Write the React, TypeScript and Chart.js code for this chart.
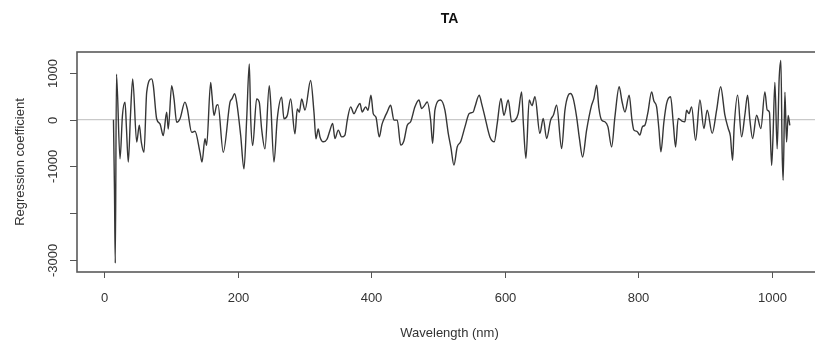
import React, { useEffect, useRef } from "react";
import { Chart, registerables } from "chart.js";

Chart.register(...registerables);

const chartTitle = "TA";
const xAxisTitle = "Wavelength (nm)";
const yAxisTitle = "Regression coefficient";

const xTicks = [0, 200, 400, 600, 800, 1000];
const xTickLabels = ["0", "200", "400", "600", "800", "1000"];
const yTicks = [1000, 0, -1000, -2000, -3000];
const yTickLabels = ["1000", "0", "-1000", "", "-3000"];

const wavelengths = [
  13.9, 15.4, 16.6, 18.4, 23.7, 27.4, 31.2, 33.4, 36.1, 39.4,
  42.7, 48.7, 52.6, 55.6, 59.6, 63.7, 71.2, 73.6, 78.6, 83.6,
  88.5, 93.6, 96.0, 101.1, 104.6, 108.6, 113.6, 121.0, 124.5, 131.1,
  136.0, 143.5, 146.5, 151.0, 153.5, 159.5, 161.5, 164.5, 168.5, 170.5,
  178.4, 188.5, 191.4, 195.5, 198.5, 204.5, 209.4, 213.5, 217.4, 219.5,
  222.5, 228.4, 232.3, 235.9, 240.9, 247.3, 249.4, 254.4, 259.3, 265.9,
  269.3, 274.3, 279.4, 285.8, 289.3, 292.3, 295.9, 300.8, 309.3, 314.3,
  317.3, 320.7, 323.3, 328.2, 333.8, 338.3, 342.3, 345.7, 350.7, 355.8,
  360.7, 364.2, 369.3, 374.2, 378.7, 383.2, 386.6, 391.7, 395.2, 399.7,
  403.1, 407.2, 412.1, 416.2, 420.6, 423.6, 429.2, 434.1, 439.1, 444.2,
  449.1, 454.1, 459.1, 465.6, 471.6, 475.6, 479.8, 484.0, 489.1, 492.1,
  495.5, 503.8, 510.5, 515.5, 519.5, 524.0, 528.9, 534.0, 540.5, 546.9,
  552.9, 555.5, 561.9, 565.5, 570.4, 577.9, 584.4, 588.9, 594.4, 598.9,
  605.4, 610.5, 615.4, 620.3, 625.4, 628.1, 631.9, 636.8, 640.9, 645.4,
  652.8, 657.8, 662.9, 668.9, 673.1, 677.9, 685.4, 690.3, 695.3, 698.5,
  702.7, 707.8, 712.0, 716.8, 722.8, 730.3, 733.7, 737.8, 741.2, 745.3,
  750.2, 754.7, 760.3, 765.2, 771.6, 775.7, 780.2, 786.6, 790.7, 793.7,
  798.2, 802.6, 806.4, 810.1, 814.6, 820.2, 823.6, 827.7, 831.1, 834.1,
  838.6, 842.6, 848.6, 852.8, 856.1, 860.0, 865.6, 870.1, 872.6, 876.1,
  880.1, 886.1, 892.6, 898.5, 903.5, 911.0, 917.6, 923.6, 930.0, 935.0,
  938.2, 941.5, 943.9, 949.0, 955.0, 959.9, 964.0, 967.4, 971.5, 977.5,
  983.9, 989.9, 993.4, 996.7, 1000.0, 1002.0, 1004.9, 1008.3, 1011.3, 1013.9,
  1015.8, 1017.3, 1019.9, 1022.4, 1024.8, 1027.3,
];

const coefficients = [
  0, -1500, -3075, 975, -840, 100, 375, -200, -910, 100,
  875, -480, -120, -480, -700, 590, 875, 730, 20, -90,
  -340, 160, -200, 730, 445, -55, 20, 375, 230, -270,
  -250, -700, -910, -410, -550, 800, 520, 90, 305, 320,
  -700, 375, 445, 555, 375, -340, -1055, 20, 1195, 20,
  -555, 445, 375, -200, -625, 730, 375, -910, 20, 480,
  20, 90, 445, -305, 230, 160, 445, 205, 840, 160,
  -410, -200, -370, -475, -420, -225, -80, -405, -225, -370,
  -330, -10, 275, 130, 250, 345, 165, 275, 200, 525,
  130, 50, -370, -100, 60, 150, 310, -10, -10, -545,
  -450, -120, -45, 275, 420, 240, 300, 380, -10, -510,
  205, 420, 205, -295, -600, -975, -585, -475, -155, 130,
  165, 275, 525, 345, 60, -370, -475, -80, 455, 95,
  420, -45, -20, 130, 595, -100, -830, 420, 300, 490,
  -295, 25, -405, -10, 100, 310, -620, 200, 525, 560,
  455, 60, -400, -800, -225, 310, 450, 740, 250, -10,
  -45, -150, -585, 60, 705, 400, 165, 525, 0, -225,
  -250, -330, -150, -120, 150, 595, 400, 275, -200, -690,
  -50, 345, 490, -100, -585, 25, -30, -45, 205, 130,
  275, -440, 420, -190, 205, -295, 205, 705, 95, -190,
  -350, -870, -155, 525, -370, 100, 525, 0, -405, 95,
  -190, 595, 205, 160, -980, -400, 800, -625, 875, 1270,
  -700, -1300, 590, -480, 90, -125,
];

const FONT = "'Liberation Sans', Arial, Helvetica, sans-serif";

export default function App() {
  const ref = useRef<HTMLCanvasElement>(null);

  useEffect(() => {
    const canvas = ref.current;
    if (!canvas) return;

    const rAxes = {
      id: "rAxes",
      beforeDatasetsDraw(chart: any) {
        const { ctx, chartArea: a, scales } = chart;
        const y0 = scales.y.getPixelForValue(0);
        ctx.save();
        ctx.strokeStyle = "#c9c9c9";
        ctx.lineWidth = 1.2;
        ctx.beginPath();
        ctx.moveTo(a.left, y0);
        ctx.lineTo(a.right, y0);
        ctx.stroke();
        ctx.restore();
      },
      afterDraw(chart: any) {
        const { ctx, chartArea: a, scales } = chart;
        const xs = scales.x;
        const ys = scales.y;
        ctx.save();
        ctx.strokeStyle = "#5a5a5a";
        ctx.lineWidth = 1.6;
        ctx.strokeRect(a.left, a.top, a.right - a.left + 4, a.bottom - a.top);

        ctx.lineWidth = 1;
        ctx.strokeStyle = "#555";
        ctx.fillStyle = "#333";
        ctx.font = `13px ${FONT}`;
        ctx.textAlign = "center";
        ctx.textBaseline = "middle";
        xTicks.forEach((v, i) => {
          const px = Math.round(xs.getPixelForValue(v)) + 0.5;
          ctx.beginPath();
          ctx.moveTo(px, a.bottom);
          ctx.lineTo(px, a.bottom + 6);
          ctx.stroke();
          ctx.fillText(xTickLabels[i], px, a.bottom + 26);
        });

        yTicks.forEach((v, i) => {
          const py = Math.round(ys.getPixelForValue(v)) + 0.5;
          ctx.beginPath();
          ctx.moveTo(a.left - 7, py);
          ctx.lineTo(a.left, py);
          ctx.stroke();
          if (yTickLabels[i]) {
            ctx.save();
            ctx.translate(a.left - 24, py);
            ctx.rotate(-Math.PI / 2);
            ctx.fillText(yTickLabels[i], 0, 0);
            ctx.restore();
          }
        });

        const cx = (a.left + a.right + 7) / 2;
        ctx.fillText(xAxisTitle, cx, a.bottom + 61);
        ctx.save();
        ctx.translate(20, (a.top + a.bottom) / 2);
        ctx.rotate(-Math.PI / 2);
        ctx.fillText(yAxisTitle, 0, 0);
        ctx.restore();

        ctx.fillStyle = "#111";
        ctx.font = `bold 14px ${FONT}`;
        ctx.fillText(chartTitle, cx, 19);
        ctx.restore();
      },
    };

    const chart = new Chart(canvas, {
      type: "line",
      data: {
        datasets: [
          {
            data: wavelengths.map((w, i) => ({ x: w, y: coefficients[i] })),
            borderColor: "#363636",
            borderWidth: 1.4,
            pointRadius: 0,
            cubicInterpolationMode: "monotone",
            fill: false,
          },
        ],
      },
      options: {
        animation: false,
        responsive: false,
        maintainAspectRatio: false,
        events: [],
        layout: { padding: { left: 77, top: 52, right: 0, bottom: 75 } },
        plugins: {
          legend: { display: false },
          tooltip: { enabled: false },
          title: { display: false },
        },
        scales: {
          x: { type: "linear", min: -40.75, max: 1065, display: false },
          y: { type: "linear", min: -3265, max: 1450, display: false },
        },
      },
      plugins: [rAxes],
    });

    return () => chart.destroy();
  }, []);

  return (
    <div
      style={{
        position: "fixed",
        left: 0,
        top: 0,
        width: 815,
        height: 347,
        background: "#fff",
      }}
    >
      <canvas ref={ref} width={815} height={347} style={{ display: "block" }} />
    </div>
  );
}
